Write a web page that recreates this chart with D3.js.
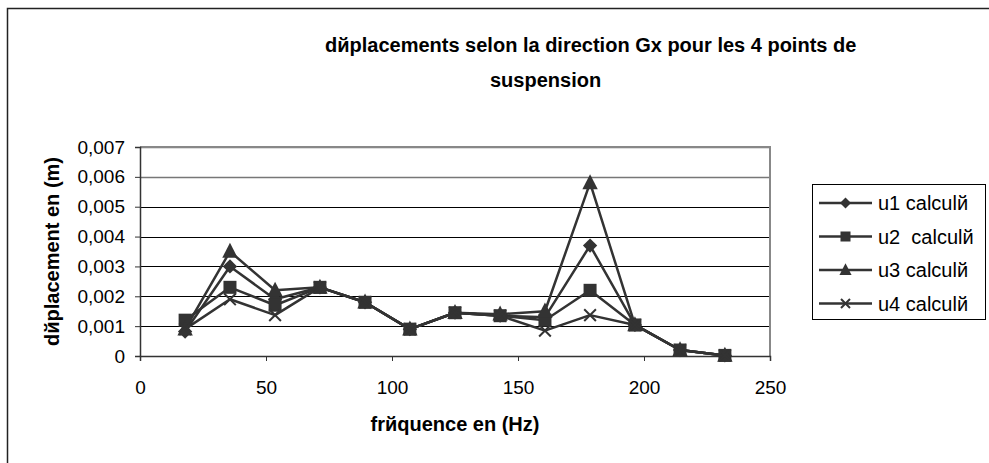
<!DOCTYPE html>
<html>
<head>
<meta charset="utf-8">
<script src="https://cdn.jsdelivr.net/npm/d3@7"></script>
<style>
  html, body { margin: 0; padding: 0; background: #fff; }
  svg { display: block; font-family: "Liberation Sans", Arial, sans-serif; }
</style>
</head>
<body>
<svg id="chart" width="989" height="463"></svg>
<script>
// Frequencies (Hz) of the computed modes
const freq = [17.9, 35.7, 53.6, 71.4, 89.3, 107.1, 125, 142.9, 160.7, 178.6, 196.4, 214.3, 232.1];
// Displacement along Gx (m) at each of the 4 suspension points
const u1 = [0.00082, 0.0030, 0.0019, 0.0023, 0.0018, 0.0009, 0.00145, 0.00135, 0.0013, 0.0037, 0.00104, 0.0002, 0.00002];
const u2 = [0.0012, 0.0023, 0.0017, 0.0023, 0.0018, 0.0009, 0.00145, 0.00135, 0.0012, 0.0022, 0.00104, 0.0002, 0.00002];
const u3 = [0.0009, 0.0035, 0.0022, 0.0023, 0.0018, 0.0009, 0.00145, 0.0014, 0.0015, 0.0058, 0.00104, 0.0002, 0.00002];
const u4 = [0.0009, 0.0019, 0.00137, 0.0023, 0.0018, 0.0009, 0.00145, 0.00135, 0.00085, 0.00137, 0.00104, 0.0002, 0.00002];
const seriesNames = ["u1 calculй", "u2  calculй", "u3 calculй", "u4 calculй"];
const seriesMarkers = ["diamond", "square", "triangle", "cross"];
const xTicks = [0, 50, 100, 150, 200, 250];
const yTicks = [0, 0.001, 0.002, 0.003, 0.004, 0.005, 0.006, 0.007];

const series = [u1, u2, u3, u4].map((vals, i) => ({
  name: seriesNames[i],
  marker: seriesMarkers[i],
  points: vals.map((v, j) => ({ f: freq[j], v }))
}));

const ink = "#333333";
const svg = d3.select("#chart");

// Outer chart frame
svg.append("rect")
  .attr("x", 7.5).attr("y", 8.5)
  .attr("width", 1100).attr("height", 600)
  .attr("fill", "#fff").attr("stroke", "#222").attr("stroke-width", 1.5);

const plot = { left: 140, right: 770, top: 147, bottom: 356 };
const x = d3.scaleLinear().domain([0, 250]).range([plot.left, plot.right]);
const y = d3.scaleLinear().domain([0, 0.007]).range([plot.bottom, plot.top]);

// Horizontal gridlines
svg.append("g")
  .selectAll("line")
  .data(yTicks.filter(t => t > 0))
  .join("line")
  .attr("x1", plot.left).attr("x2", plot.right)
  .attr("y1", d => Math.round(y(d)) + 0.5).attr("y2", d => Math.round(y(d)) + 0.5)
  .attr("stroke", d => d >= 0.006 ? "#777" : "#000").attr("stroke-width", d => d >= 0.006 ? 1.5 : 1);

// Plot-area border (top and right)
svg.append("path")
  .attr("d", `M${plot.left},${plot.top}H${plot.right}V${plot.bottom}`)
  .attr("fill", "none").attr("stroke", "#888").attr("stroke-width", 2);

const fmt = d => d === 0 ? "0" : d3.format(".3f")(d).replace(".", ",");

// Y axis
const yAxis = svg.append("g")
  .attr("transform", `translate(${plot.left},0)`)
  .call(d3.axisLeft(y).tickValues(yTicks).tickFormat(fmt).tickSize(5).tickPadding(10));
// X axis
const xAxis = svg.append("g")
  .attr("transform", `translate(0,${plot.bottom})`)
  .call(d3.axisBottom(x).tickValues(xTicks).tickSize(5).tickPadding(20));

[yAxis, xAxis].forEach(g => {
  g.select(".domain").attr("stroke", "#333").attr("stroke-width", 1.5);
  g.selectAll(".tick line").attr("stroke", "#333").attr("stroke-width", 1);
  g.selectAll(".tick text").attr("fill", "#000").style("font-size", "19px")
    .style("font-family", "'Liberation Sans', Arial, sans-serif");
});

// Marker shapes
function drawMarker(sel, type, size) {
  if (type === "diamond") {
    const r = size * 0.55;
    sel.append("path").attr("d", `M0,${-r}L${r},0L0,${r}L${-r},0Z`).attr("fill", ink);
  } else if (type === "square") {
    const s = size;
    sel.append("rect").attr("x", -s / 2).attr("y", -s / 2).attr("width", s).attr("height", s).attr("fill", ink);
  } else if (type === "triangle") {
    const h = size + 1;
    sel.append("path").attr("d", `M0,${-h * 0.62}L${h * 0.55},${h * 0.45}L${-h * 0.55},${h * 0.45}Z`).attr("fill", ink);
  } else {
    const r = size * 0.45;
    sel.append("path").attr("d", `M${-r},${-r}L${r},${r}M${-r},${r}L${r},${-r}`)
      .attr("stroke", ink).attr("stroke-width", 2).attr("fill", "none");
  }
}

const line = d3.line().x(d => x(d.f)).y(d => y(d.v));

// Series lines and markers
series.forEach(s => {
  svg.append("path").datum(s.points)
    .attr("d", line).attr("fill", "none").attr("stroke", ink).attr("stroke-width", 2.5)
    .attr("stroke-linejoin", "round");
});
series.forEach(s => {
  svg.append("g").selectAll("g")
    .data(s.points)
    .join("g")
    .attr("transform", d => `translate(${x(d.f)},${y(d.v)})`)
    .each(function () { drawMarker(d3.select(this), s.marker, 13); });
});

// Titles
const title = svg.append("text")
  .attr("text-anchor", "start")
  .style("font-size", "20px").style("font-weight", "bold").attr("fill", "#000");
title.append("tspan").attr("x", 325).attr("y", 52).text("dйplacements selon la direction Gx pour les 4 points de");
title.append("tspan").attr("x", 490).attr("y", 87).text("suspension");

svg.append("text")
  .attr("x", 455).attr("y", 431)
  .attr("text-anchor", "middle")
  .style("font-size", "20px").style("font-weight", "bold")
  .text("frйquence en (Hz)");

svg.append("text")
  .attr("transform", `translate(59,${(plot.top + plot.bottom) / 2}) rotate(-90)`)
  .attr("text-anchor", "middle")
  .style("font-size", "20px").style("font-weight", "bold")
  .text("dйplacement en (m)");

// Legend
const legend = svg.append("g");
legend.append("rect")
  .attr("x", 812.5).attr("y", 184.5).attr("width", 173).attr("height", 135)
  .attr("fill", "#fff").attr("stroke", "#000").attr("stroke-width", 1);
series.forEach((s, i) => {
  const cy = 203 + i * 33.5;
  const g = legend.append("g");
  g.append("line").attr("x1", 819).attr("x2", 872).attr("y1", cy).attr("y2", cy)
    .attr("stroke", ink).attr("stroke-width", 2.5);
  const m = g.append("g").attr("transform", `translate(845.5,${cy})`);
  drawMarker(m, s.marker, 10);
  g.append("text").attr("x", 878).attr("y", cy + 7)
    .style("font-size", "20px").style("white-space", "pre")
    .text(s.name);
});
</script>
</body>
</html>
